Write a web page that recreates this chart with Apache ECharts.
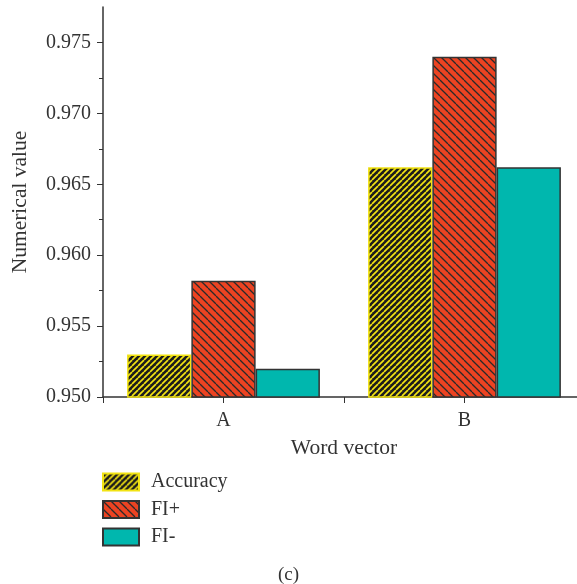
<!DOCTYPE html>
<html><head><meta charset="utf-8">
<script src="https://cdn.jsdelivr.net/npm/echarts@6/dist/echarts.min.js"></script>
<style>html,body{margin:0;padding:0;background:#fff}#c{width:577px;height:584px}</style>
</head><body><div id="c"></div>
<script>
const categories = ['A', 'B'];
const accuracy = [0.9530, 0.9662];
const fiPlus = [0.9582, 0.9740];
const fiMinus = [0.9520, 0.9662];
const seriesNames = ['Accuracy', 'FI+', 'FI-'];
const yMajorTicks = [0.950, 0.955, 0.960, 0.965, 0.970, 0.975];
const yMinorTicks = [0.9525, 0.9575, 0.9625, 0.9675, 0.9725];

function makePattern(bg, fg, s, lw, dir) {
  const c = document.createElement('canvas');
  c.width = s; c.height = s;
  const ctx = c.getContext('2d');
  ctx.fillStyle = bg; ctx.fillRect(0, 0, s, s);
  ctx.strokeStyle = fg; ctx.lineWidth = lw;
  for (let k = -1; k <= 1; k++) {
    ctx.beginPath();
    if (dir === '/') { ctx.moveTo(k * s, s); ctx.lineTo(k * s + s, 0); }
    else { ctx.moveTo(k * s, 0); ctx.lineTo(k * s + s, s); }
    ctx.stroke();
  }
  return { image: c, repeat: 'repeat' };
}

const font = 'Liberation Serif';
const txt = '#333';
const chart = echarts.init(document.getElementById('c'));
chart.setOption({
  animation: false,
  backgroundColor: '#fff',
  title: { text: '(c)', left: 'center', top: 566, padding: 0, textStyle: { fontFamily: font, fontSize: 19, fontWeight: 'normal', color: txt } },
  legend: {
    orient: 'vertical', left: 102, top: 472, padding: 0, itemWidth: 36, itemHeight: 17, itemGap: 7.5,
    icon: 'rect',
    textStyle: { fontFamily: font, fontSize: 20, color: txt, padding: [0, 0, 0, 7] },
    data: seriesNames
  },
  grid: { left: 103, top: 7, width: 482, height: 390, outerBoundsMode: 'none', containLabel: false },
  xAxis: [{
    type: 'category', data: categories,
    name: 'Word vector', nameLocation: 'middle', nameGap: 40,
    nameTextStyle: { fontFamily: font, fontSize: 21.5, color: txt },
    axisLine: { lineStyle: { color: txt, width: 1.5 } },
    axisTick: { show: true, alignWithLabel: false, length: 6, lineStyle: { color: txt } },
    axisLabel: { fontFamily: font, fontSize: 20, color: txt, margin: 14 }
  }, {
    type: 'category', data: categories, position: 'bottom',
    axisLine: { show: false },
    axisTick: { show: true, alignWithLabel: true, length: 6, lineStyle: { color: txt } },
    axisLabel: { show: false }
  }],
  yAxis: [{
    type: 'value', min: 0.95, max: 0.9775,
    name: 'Numerical value', nameLocation: 'middle', nameGap: 72,
    nameTextStyle: { fontFamily: font, fontSize: 21.5, color: txt },
    axisLine: { show: true, lineStyle: { color: txt, width: 1.5 } },
    axisTick: { show: true, length: 6, customValues: yMajorTicks, lineStyle: { color: txt } },
    splitLine: { show: false },
    axisLabel: { fontFamily: font, fontSize: 20, color: txt, margin: 12, customValues: yMajorTicks,
      formatter: v => v.toFixed(3) }
  }, {
    type: 'value', min: 0.95, max: 0.9775, position: 'left',
    axisLine: { show: false },
    axisTick: { show: true, length: 4, customValues: yMinorTicks, lineStyle: { color: txt } },
    splitLine: { show: false },
    axisLabel: { show: false }
  }],
  series: [
    { name: 'Accuracy', type: 'bar', data: accuracy, barGap: '0%', barCategoryGap: '20%',
      itemStyle: { color: makePattern('#1c1c1c', '#f2e313', 6, 1.7, '/'), borderColor: '#f2e313', borderWidth: 1.5 } },
    { name: 'FI+', type: 'bar', data: fiPlus,
      itemStyle: { color: makePattern('#ec4322', '#2a2a2a', 8, 1.3, '\\'), borderColor: '#333', borderWidth: 1.5 } },
    { name: 'FI-', type: 'bar', data: fiMinus,
      itemStyle: { color: '#00b7ae', borderColor: '#333', borderWidth: 1.5 } }
  ]
});
</script></body></html>
